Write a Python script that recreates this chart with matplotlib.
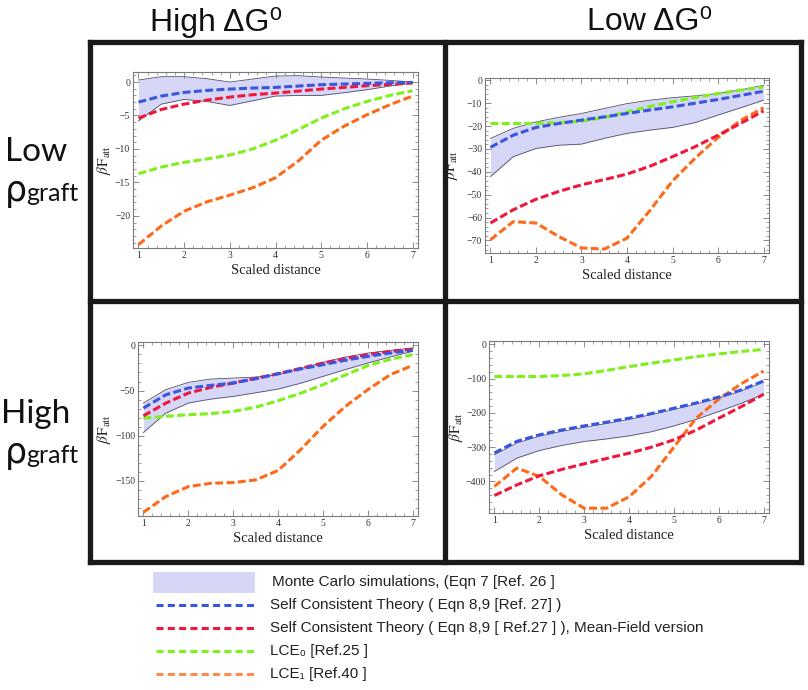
import numpy as np
import matplotlib
matplotlib.use('Agg')
import matplotlib.pyplot as plt
from matplotlib.patches import Rectangle

plt.rcParams['font.family'] = ['Liberation Sans', 'DejaVu Sans']
plt.rcParams['mathtext.fontset'] = 'stix'

W, H = 808, 690

# sample positions along the scaled distance axis
dist = [1, 1.5, 2, 2.5, 3, 3.5, 4, 4.5, 5, 5.5, 6, 6.5, 7]

# top-left: high dG0, low grafting density
tl_mc_hi = [0.3, 0.8, 0.8, 0.5, 0.0, 0.45, 0.9, 0.95, 0.75, 0.6, 0.45, 0.25, 0.0]
tl_mc_lo = [-5.8, -3.3, -2.6, -2.9, -3.5, -2.8, -2.1, -2.0, -2.0, -1.6, -1.15, -0.6, -0.15]
tl_sct = [-3.0, -2.1, -1.55, -1.25, -1.05, -0.9, -0.8, -0.6, -0.4, -0.3, -0.2, -0.1, -0.05]
tl_mf = [-5.4, -4.1, -3.3, -2.7, -2.25, -1.9, -1.65, -1.35, -1.05, -0.8, -0.55, -0.35, -0.15]
tl_lce0 = [-13.7, -12.7, -12.0, -11.5, -10.9, -10.0, -8.7, -7.1, -5.4, -4.0, -2.9, -2.0, -1.3]
tl_lce1 = [-24.3, -21.5, -19.3, -17.9, -16.9, -15.8, -14.3, -11.8, -8.7, -6.6, -4.9, -3.4, -2.1]

# top-right: low dG0, low grafting density
tr_mc_hi = [-25.4, -21.0, -18.2, -16.2, -14.5, -12.3, -10.2, -8.7, -7.6, -6.8, -5.8, -4.2, -2.2]
tr_mc_lo = [-42.1, -33.4, -29.8, -28.4, -27.9, -25.4, -23.2, -21.8, -20.6, -18.5, -15.2, -12.0, -8.7]
tr_sct = [-29.3, -24.0, -20.6, -18.9, -17.4, -16.0, -14.5, -13.0, -11.6, -10.0, -8.4, -6.6, -4.8]
tr_mf = [-62.4, -56.6, -52.0, -48.6, -45.7, -43.4, -41.0, -37.6, -33.4, -29.0, -24.0, -18.8, -13.4]
tr_lce0 = [-18.9, -18.9, -18.8, -18.5, -17.9, -16.3, -13.8, -11.5, -9.4, -7.5, -5.8, -4.3, -2.9]
tr_lce1 = [-69.7, -61.8, -62.4, -68.3, -73.3, -73.8, -69.0, -57.0, -44.0, -34.0, -25.0, -17.5, -12.0]

# bottom-left: high dG0, high grafting density
bl_mc_hi = [-63.9, -49.0, -41.0, -37.3, -36.2, -35.1, -32.5, -26.0, -18.8, -13.0, -8.5, -5.5, -3.0]
bl_mc_lo = [-96.4, -75.0, -63.9, -59.5, -56.5, -52.5, -48.4, -42.0, -34.4, -26.8, -19.6, -12.8, -6.6]
bl_sct = [-69.4, -54.7, -47.3, -44.3, -41.7, -37.0, -31.4, -26.2, -21.4, -16.5, -12.2, -8.5, -5.5]
bl_mf = [-78.0, -63.9, -52.8, -46.5, -41.7, -36.5, -31.4, -25.5, -19.6, -14.6, -10.3, -6.8, -4.1]
bl_lce0 = [-80.5, -78.5, -76.8, -75.5, -73.1, -68.5, -61.3, -53.0, -43.6, -32.8, -22.5, -15.5, -10.3]
bl_lce1 = [-184.7, -167.3, -156.3, -152.6, -151.8, -148.9, -138.5, -115.6, -89.8, -67.6, -49.1, -32.5, -22.2]

# bottom-right: low dG0, high grafting density
br_mc_hi = [-322, -288, -268, -254, -242, -231, -219, -205, -190, -174, -157, -136, -110]
br_mc_lo = [-371, -332, -310, -295, -283.5, -276, -267, -255, -238, -219, -196, -172, -145.6]
br_sct = [-317, -283, -264, -250, -238, -227, -215.5, -202, -186.4, -171, -154, -133, -107]
br_mf = [-441, -410, -383.5, -365, -348.5, -333, -317.5, -300, -278.6, -250, -215.5, -182, -145.6]
br_lce0 = [-94, -94, -94, -91, -86, -76, -65, -55, -45.6, -36, -28, -21, -14.6]
br_lce1 = [-414.6, -361, -385, -439, -478, -478, -445, -385, -300, -215, -160, -115, -78]

col_titles = ['High \u0394G\u2070', 'Low \u0394G\u2070']
row_titles = ['Low', 'High']
legend_labels = ['Monte Carlo simulations, (Eqn 7 [Ref. 26 ]',
                 'Self Consistent Theory ( Eqn 8,9 [Ref. 27] )',
                 'Self Consistent Theory ( Eqn 8,9 [ Ref.27 ] ), Mean-Field version',
                 'LCE\u2080 [Ref.25 ]',
                 'LCE\u2081 [Ref.40 ]']

C_FILL = '#d6d6f7'
C_EDGE = '#50506a'
C_BLUE = '#3a55e0'
C_RED = '#f0173c'
C_GREEN = '#7ef01a'
C_ORANGE = '#ff6a1a'
C_ORANGE_LEG = '#ff8a4a'

fig = plt.figure(figsize=(W / 100, H / 100), dpi=100)


def px_rect(l, t, r, b):
    return [l / W, 1 - b / H, (r - l) / W, (b - t) / H]


def panel(rect, mc_hi, mc_lo, sct, mf, lce0, lce1, ylim, ymaj, ymin, ylab_x):
    ax = fig.add_axes(px_rect(*rect))
    ax.fill_between(dist, mc_lo, mc_hi, color=C_FILL, lw=0, zorder=1)
    ax.plot(dist, mc_hi, color=C_EDGE, lw=0.6, zorder=2)
    ax.plot(dist, mc_lo, color=C_EDGE, lw=0.6, zorder=2)
    kw = dict(lw=2.2, dashes=(2.6, 1.1), zorder=3)
    ax.plot(dist, lce1, color=C_ORANGE, **kw)
    ax.plot(dist, lce0, color=C_GREEN, **kw)
    ax.plot(dist, mf, color=C_RED, **kw)
    ax.plot(dist, sct, color=C_BLUE, **kw)
    ax.set_xlim(0.88, 7.12)
    ax.set_ylim(*ylim)
    ax.set_xticks([1, 2, 3, 4, 5, 6, 7])
    ax.set_xticks(np.arange(1, 7.01, 0.2), minor=True)
    ax.set_yticks(ymaj)
    ax.set_yticks(ymin, minor=True)
    for sp in ax.spines.values():
        sp.set_color('#7a7a7a')
        sp.set_linewidth(0.8)
    ax.tick_params(which='both', direction='in', top=True, right=True,
                   colors='#7a7a7a', labelcolor='#333333', labelsize=7, pad=2)
    ax.tick_params(which='major', length=4, width=0.6)
    ax.tick_params(which='minor', length=2, width=0.5)
    for lab in ax.get_xticklabels() + ax.get_yticklabels():
        lab.set_family('Liberation Serif')
    ax.set_xlabel('Scaled distance', family='Liberation Serif', fontsize=10.5,
                  color='#222222', labelpad=3)
    ax.set_ylabel(r'$\beta\mathrm{F}_{\mathrm{att}}$', fontsize=11,
                  color='#222222')
    # label anchor is its right edge
    ax.yaxis.set_label_coords(ylab_x, 0.5)
    return ax


panel((133, 72, 418, 248), tl_mc_hi, tl_mc_lo, tl_sct, tl_mf, tl_lce0, tl_lce1,
      (-24.8, 1.5), [0, -5, -10, -15, -20], np.arange(-24, 1.1, 1), -0.07)
panel((485, 78, 769, 253), tr_mc_hi, tr_mc_lo, tr_sct, tr_mf, tr_lce0, tr_lce1,
      (-75.5, 1.0), [0, -10, -20, -30, -40, -50, -60, -70], np.arange(-74, 0.1, 2), -0.088)
panel((138, 342, 418, 516), bl_mc_hi, bl_mc_lo, bl_sct, bl_mf, bl_lce0, bl_lce1,
      (-188.8, 3.7), [0, -50, -100, -150], np.arange(-180, 0.1, 10), -0.09)
panel((489, 341, 769, 513), br_mc_hi, br_mc_lo, br_sct, br_mf, br_lce0, br_lce1,
      (-492, 9.7), [0, -100, -200, -300, -400], np.arange(-480, 0.1, 20), -0.086)

# overlay in pixel coordinates for frame, titles and legend
lax = fig.add_axes([0, 0, 1, 1], zorder=-1)
lax.set_xlim(0, W)
lax.set_ylim(H, 0)
lax.axis('off')
lax.patch.set_alpha(0)

fk = dict(color='#1a1a1a', lw=3.8, solid_capstyle='projecting')
for x in (90, 445, 801):
    lax.plot([x, x], [42, 562], **fk)
for y in (42, 301, 562):
    lax.plot([90, 801], [y, y], **fk)

for x, t in zip((216, 650), col_titles):
    lax.text(x, 22, t, fontsize=23, ha='center', va='center', color='#111111')

for y, t in zip((152, 414), row_titles):
    lax.text(36, y, t, fontsize=24, ha='center', va='center', family='Lato',
             color='#111111')
    lax.text(5, y + 49, '\u03c1', fontsize=25, ha='left', va='baseline',
             family='DejaVu Sans', color='#111111')
    lax.text(26, y + 49, 'graft', fontsize=18, ha='left', va='baseline',
             family='Lato', color='#111111')

# legend
lax.add_patch(Rectangle((153, 572), 102, 21, color=C_FILL, lw=0))
leg_colors = [C_BLUE, C_RED, C_GREEN, C_ORANGE_LEG]
row_y = [582, 605, 628, 651, 674]
for y, c in zip(row_y[1:], leg_colors):
    lax.plot([156, 255], [y, y], color=c, lw=2.2, dashes=(2.3, 1.4))
for y, t in zip(row_y, legend_labels):
    lax.text(272 if y == row_y[0] else 270, y, t, fontsize=11,
             ha='left', va='center', color='#222222')

fig.savefig('out.png', dpi=100)
